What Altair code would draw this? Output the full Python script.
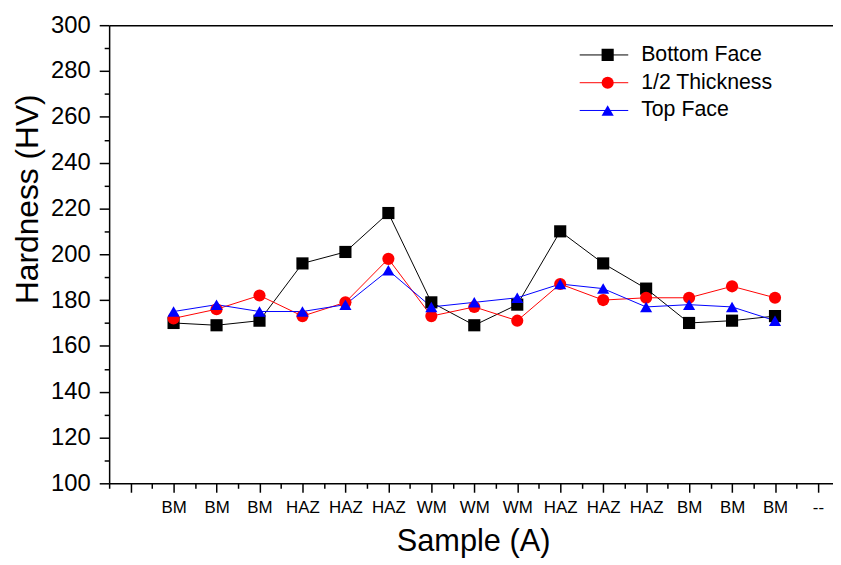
import json
import altair as alt
import pandas as pd

# ---- data ----
positions = list(range(2, 17))
bottom_face = [170, 169, 171, 196, 201, 218, 179, 169, 178, 210, 196, 185, 170, 171, 173]
half_thickness = [172, 176, 182, 173, 179, 198, 173, 177, 171, 187, 180, 181, 181, 186, 181]
top_face = [175, 178, 175, 175, 178, 193, 177, 179, 181, 187, 185, 177, 178, 177, 171]

series_names = ["Bottom Face", "1/2 Thickness", "Top Face"]
series_colors = ["#000000", "#ff0000", "#0000ff"]
series_shapes = ["square", "circle", "triangle-up"]
series_sizes = [150, 150, 200]

# tick labels for positions 1..17
tick_labels = ["", "BM", "BM", "BM", "HAZ", "HAZ", "HAZ", "WM", "WM", "WM",
               "HAZ", "HAZ", "HAZ", "BM", "BM", "BM", "--"]
y_ticks = list(range(100, 301, 10))
x_ticks = [v / 2 for v in range(1, 35)]  # 0.5 .. 17

rows = []
for name, vals in zip(series_names, [bottom_face, half_thickness, top_face]):
    for p, v in zip(positions, vals):
        rows.append({"pos": p, "hv": v, "series": name, "series2": name})
df = pd.DataFrame(rows)

FONT = "Liberation Sans"
label_arr = json.dumps(tick_labels)

x_scale = alt.Scale(domain=[0.5, 17.35], nice=False, zero=False)
y_scale = alt.Scale(domain=[100, 300], nice=False, zero=False)

x_bottom = alt.X(
    "pos:Q", scale=x_scale,
    axis=alt.Axis(
        values=x_ticks,
        labelExpr=f"datum.value % 1 === 0 ? {label_arr}[datum.value - 1] : ''",
        tickSize={"condition": {"test": "datum.value % 1 === 0", "value": 9}, "value": 5},
        labelPadding=7, labelFontSize=17, labelFont=FONT, labelColor="black",
        labelOverlap=False, labelFlush=False, grid=False,
        domainColor="black", domainWidth=1.5, tickColor="black", tickWidth=1.5,
        title="Sample (A)", titleFont=FONT, titleFontSize=31, titleFontWeight="normal",
        titleColor="black", titleX=367, titleY=68, titleBaseline="alphabetic",
    ),
)
x_top = alt.X(
    "pos:Q", scale=x_scale,
    axis=alt.Axis(orient="top", labels=False, ticks=False, grid=False, title=None,
                  domainColor="black", domainWidth=1.5),
)
y_enc = alt.Y(
    "hv:Q", scale=y_scale,
    axis=alt.Axis(
        values=y_ticks,
        labelExpr="datum.value % 20 === 0 ? datum.label : ''",
        tickSize={"condition": {"test": "datum.value % 20 === 0", "value": 10}, "value": 5},
        labelPadding=9, labelFontSize=24, labelFont=FONT, labelColor="black",
        labelOverlap=False, labelFlush=False, grid=False,
        domainColor="black", domainWidth=1.5, tickColor="black", tickWidth=1.5,
        title="Hardness (HV)", titleFont=FONT, titleFontSize=32, titleFontWeight="normal",
        titleColor="black", titleX=-82, titleY=175, titleAngle=-90, titleBaseline="middle",
    ),
)

lines = alt.Chart(df).mark_line(strokeWidth=1).encode(
    x=x_bottom,
    y=y_enc,
    stroke=alt.Stroke(
        "series:N",
        sort=series_names,
        scale=alt.Scale(range=series_colors),
        legend=alt.Legend(
            orient="none", legendX=474, legendY=17, title=None, padding=0,
            symbolType="stroke", symbolSize=2401, symbolStrokeWidth=1,
            labelFont=FONT, labelFontSize=21.5, labelOpacity=0, labelExpr="''",
            clipHeight=26, rowPadding=2,
        ),
    ),
    order="pos:Q",
)

marker_legend = alt.Legend(
    orient="none", legendX=492, legendY=17, title=None, padding=0,
    symbolSize=150, symbolStrokeWidth=0,
    labelFont=FONT, labelFontSize=21.5, labelColor="black", labelOffset=23,
    clipHeight=26, rowPadding=2,
)
points = alt.Chart(df).mark_point(filled=True, opacity=1).encode(
    x=x_top,
    y=y_enc,
    fill=alt.Fill("series2:N", scale=alt.Scale(domain=series_names, range=series_colors),
                  legend=marker_legend),
    shape=alt.Shape("series2:N", scale=alt.Scale(domain=series_names, range=series_shapes),
                    legend=marker_legend),
    size=alt.Size("series2:N", scale=alt.Scale(domain=series_names, range=series_sizes),
                  legend=None),
)

chart = (
    alt.layer(lines, points)
    .resolve_axis(x="independent")
    .resolve_scale(stroke="independent", fill="independent", shape="independent")
    .properties(
        width=730, height=462,
        autosize=alt.AutoSizeParams(type="none"),
        padding={"left": 102, "top": 15, "right": 0, "bottom": 75},
        background="white",
    )
    .configure_view(stroke=None)
)

chart.save("out.html", embed_options={"renderer": "svg", "actions": False})
